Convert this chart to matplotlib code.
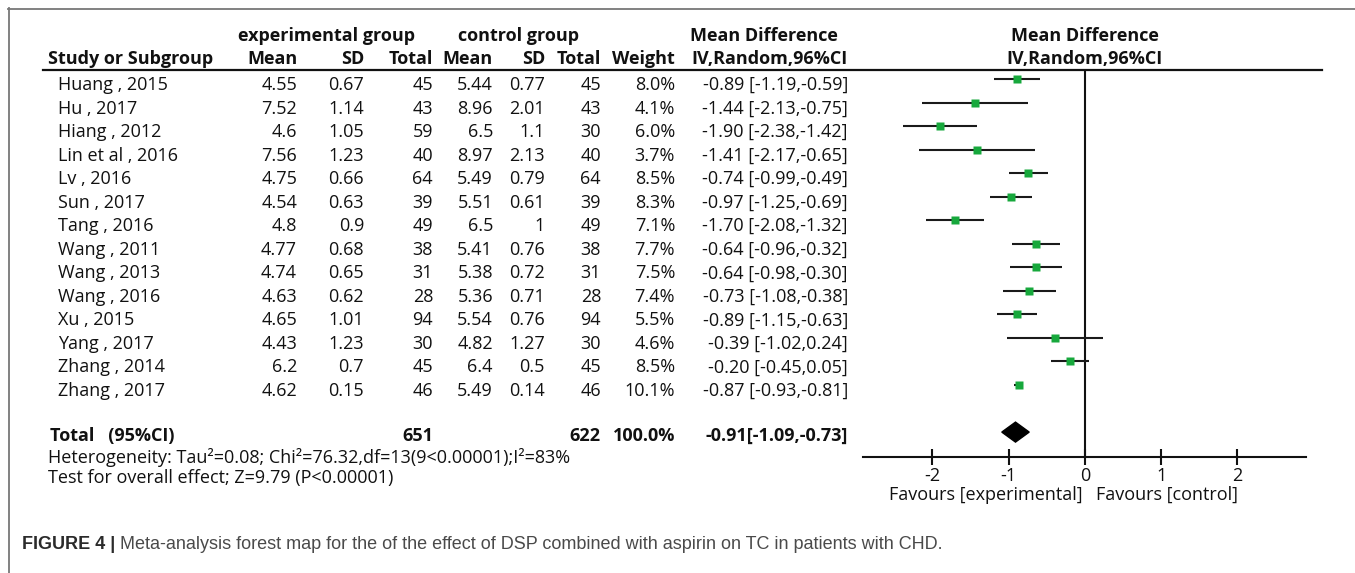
import matplotlib
matplotlib.use("Agg")
import matplotlib.pyplot as plt
from matplotlib.lines import Line2D

plt.rcParams['font.family'] = ['Open Sans', 'DejaVu Sans']

# ---------------- data ----------------
studies = ["Huang , 2015", "Hu , 2017", "Hiang , 2012", "Lin et al , 2016", "Lv , 2016",
           "Sun , 2017", "Tang , 2016", "Wang , 2011", "Wang , 2013", "Wang , 2016",
           "Xu , 2015", "Yang , 2017", "Zhang , 2014", "Zhang , 2017"]
exp_mean = [4.55, 7.52, 4.6, 7.56, 4.75, 4.54, 4.8, 4.77, 4.74, 4.63, 4.65, 4.43, 6.2, 4.62]
exp_sd = [0.67, 1.14, 1.05, 1.23, 0.66, 0.63, 0.9, 0.68, 0.65, 0.62, 1.01, 1.23, 0.7, 0.15]
exp_n = [45, 43, 59, 40, 64, 39, 49, 38, 31, 28, 94, 30, 45, 46]
ctl_mean = [5.44, 8.96, 6.5, 8.97, 5.49, 5.51, 6.5, 5.41, 5.38, 5.36, 5.54, 4.82, 6.4, 5.49]
ctl_sd = [0.77, 2.01, 1.1, 2.13, 0.79, 0.61, 1, 0.76, 0.72, 0.71, 0.76, 1.27, 0.5, 0.14]
ctl_n = [45, 43, 30, 40, 64, 39, 49, 38, 31, 28, 94, 30, 45, 46]
weight = [8.0, 4.1, 6.0, 3.7, 8.5, 8.3, 7.1, 7.7, 7.5, 7.4, 5.5, 4.6, 8.5, 10.1]
md = [-0.89, -1.44, -1.90, -1.41, -0.74, -0.97, -1.70, -0.64, -0.64, -0.73, -0.89, -0.39, -0.20, -0.87]
ci_low = [-1.19, -2.13, -2.38, -2.17, -0.99, -1.25, -2.08, -0.96, -0.98, -1.08, -1.15, -1.02, -0.45, -0.93]
ci_high = [-0.59, -0.75, -1.42, -0.65, -0.49, -0.69, -1.32, -0.32, -0.30, -0.38, -0.63, 0.24, 0.05, -0.81]
total_exp_n = 651
total_ctl_n = 622
total_weight = 100.0
total_md = -0.91
total_low = -1.09
total_high = -0.73
x_ticks = [-2, -1, 0, 1, 2]
heterogeneity = "Heterogeneity: Tau\u00b2=0.08; Chi\u00b2=76.32,df=13(9<0.00001);I\u00b2=83%"
overall = "Test for overall effect; Z=9.79 (P<0.00001)"
caption_bold = "FIGURE 4 |"
caption = "Meta-analysis forest map for the of the effect of DSP combined with aspirin on TC in patients with CHD."

# ---------------- layout helpers ----------------
W, H = 1355, 573
fig = plt.figure(figsize=(W / 100, H / 100), dpi=100)

def fx(x):
    return x / W

def fy(y):
    return 1 - y / H

ROW0, DY = 79.0, 23.54
TOP, BOT = 70.0, 457.0
FS = 13
TXT_OFF = 11  # baseline offset of table text below marker centre

def row_px(i):
    return ROW0 + DY * i

def txt(x, y, s, ha='left', bold=False, **kw):
    fig.text(fx(x), fy(y), s, ha=ha, va='baseline', fontsize=FS,
             fontweight='bold' if bold else 'normal', color='#111111', **kw)

# ---------------- forest axes ----------------
ax = fig.add_axes([fx(863), fy(BOT), fx(1306) - fx(863), fy(TOP) - fy(BOT)])
ax.set_xlim(-2.91, 2.90)
ax.set_ylim((BOT - ROW0) / DY, (TOP - ROW0) / DY)
for s in ['top', 'right', 'left']:
    ax.spines[s].set_visible(False)
ax.spines['bottom'].set_linewidth(1.5)
ax.spines['bottom'].set_color('#111111')
ax.set_yticks([])
ax.set_xticks(x_ticks)
ax.set_xticklabels([str(t) for t in x_ticks])
ax.tick_params(axis='x', direction='inout', length=11, width=1.5, color='#111111',
               labelsize=FS, pad=1.5, labelcolor='#111111')
ax.patch.set_alpha(0)

ax.axvline(0, color='#111111', lw=1.5)
for i in range(len(studies)):
    ax.plot([ci_low[i], ci_high[i]], [i, i], color='#1a1a1a', lw=1.5,
            solid_capstyle='butt', zorder=3)
    ax.plot(md[i], i, marker='s', ms=5.5, color='#17a83c', mec='none', zorder=4)

ty = len(studies) + 1
h = 10 / DY
ax.fill([total_low, total_md, total_high, total_md], [ty, ty - h, ty, ty + h],
        color='black', zorder=4)

# ---------------- table headers ----------------
txt(326, 41, "experimental group", ha='center', bold=True)
txt(518, 41, "control group", ha='center', bold=True)
txt(690, 41, "Mean Difference", bold=True)
txt(1085, 41, "Mean Difference", ha='center', bold=True)
txt(48, 64, "Study or Subgroup", bold=True)
txt(298, 64, "Mean", ha='right', bold=True)
txt(364, 64, "SD", ha='right', bold=True)
txt(433, 64, "Total", ha='right', bold=True)
txt(493, 64, "Mean", ha='right', bold=True)
txt(545, 64, "SD", ha='right', bold=True)
txt(601, 64, "Total", ha='right', bold=True)
txt(675, 64, "Weight", ha='right', bold=True)
txt(691, 64, "IV,Random,96%CI", bold=True)
txt(1085, 64, "IV,Random,96%CI", ha='center', bold=True)

fig.add_artist(Line2D([fx(43), fx(1322)], [fy(70), fy(70)], transform=fig.transFigure,
                      color='#111111', lw=1.6))

# ---------------- table rows ----------------
for i, name in enumerate(studies):
    y = row_px(i) + TXT_OFF
    txt(58, y, name)
    txt(297, y, f"{exp_mean[i]:g}", ha='right')
    txt(364, y, f"{exp_sd[i]:g}", ha='right')
    txt(433, y, f"{exp_n[i]}", ha='right')
    txt(493, y, f"{ctl_mean[i]:g}", ha='right')
    txt(545, y, f"{ctl_sd[i]:g}", ha='right')
    txt(601, y, f"{ctl_n[i]}", ha='right')
    txt(675, y, f"{weight[i]:.1f}%", ha='right')
    txt(848, y, f"{md[i]:.2f} [{ci_low[i]:.2f},{ci_high[i]:.2f}]", ha='right')

yt = 441
txt(50, yt, "Total   (95%CI)", bold=True)
txt(433, yt, f"{total_exp_n}", ha='right', bold=True)
txt(601, yt, f"{total_ctl_n}", ha='right', bold=True)
txt(675, yt, f"{total_weight:.1f}%", ha='right', bold=True)
txt(848, yt, f"{total_md:.2f}[{total_low:.2f},{total_high:.2f}]", ha='right', bold=True)

txt(48, 463, heterogeneity)
txt(48, 483, overall)

txt(1083, 500, "Favours [experimental]", ha='right')
txt(1096, 500, "Favours [control]")

# ---------------- frame & caption ----------------
fig.add_artist(Line2D([fx(8), 1.0], [fy(8.5), fy(8.5)], transform=fig.transFigure,
                      color='#777777', lw=1.3))
fig.add_artist(Line2D([fx(8.5), fx(8.5)], [fy(8), 0.0], transform=fig.transFigure,
                      color='#777777', lw=1.3))

cb = fig.text(fx(22), fy(549), caption_bold, ha='left', va='baseline', fontsize=13,
              fontweight='bold', color='#2b2b2b', family=['Liberation Sans', 'DejaVu Sans'])
fig.canvas.draw()
bb = cb.get_window_extent(fig.canvas.get_renderer())
fig.text((bb.x1 + 5) / W, fy(549), caption, ha='left', va='baseline', fontsize=13,
         color='#4a4a4a', family=['Liberation Sans', 'DejaVu Sans'])

fig.savefig("out.png", dpi=100)
